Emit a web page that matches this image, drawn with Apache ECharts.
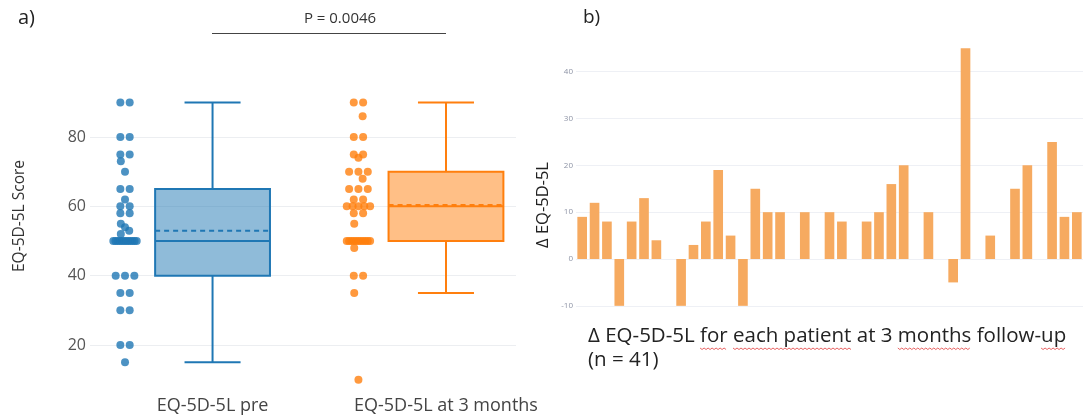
<!DOCTYPE html>
<html>
<head>
<meta charset="utf-8">
<script src="https://cdn.jsdelivr.net/npm/echarts@6/dist/echarts.min.js"></script>
<style>
    html, body { margin: 0; padding: 0; background: #fff; }
    #eqChart { width: 1083px; height: 417px; }
</style>
</head>
<body>
<div id="eqChart"></div>
<script>
const categories = ['EQ-5D-5L pre', 'EQ-5D-5L at 3 months'];

// skor tiap pasien
const preScores = [90, 90, 80, 80, 75, 75, 73, 70, 65, 65, 62, 60, 60, 58, 58, 55, 54, 53, 52,
    50, 50, 50, 50, 50, 50, 50, 50, 50, 50, 50, 50,
    40, 40, 40, 35, 35, 30, 30, 20, 20, 15];
const postScores = [90, 90, 86, 80, 80, 75, 75, 74, 70, 70, 70, 68, 65, 65, 65, 62, 62,
    60, 60, 60, 60, 60, 58, 58, 55,
    50, 50, 50, 50, 50, 50, 50, 50, 50, 50, 50,
    48, 40, 40, 35, 10];

// [min, Q1, median, Q3, max]
const boxStats = [[15, 40, 50, 65, 90], [35, 50, 60, 70, 90]];
const meanScores = [53, 60.4];

// delta per pasien
const deltaScores = [9, 12, 8, -10, 8, 13, 4, 0, -10, 3, 8, 19, 5, -10, 15, 10, 10, 0, 10, 0, 10,
    8, 0, 8, 10, 16, 20, 0, 10, 0, -5, 45, 0, 5, 0, 15, 20, 0, 25, 9, 10];

const caption = 'Δ EQ-5D-5L for each patient at 3 months follow-up';
const misspelled = ['for', 'each patient', 'months', 'up'];

const lineColors = ['#1f77b4', '#ff7f0e'];
const fillColors = ['rgba(31,119,180,0.5)', 'rgba(255,127,14,0.5)'];
const captionFont = '20.5px "Open Sans"';

// titik-titik di kiri box, nilai kembar disebar ke samping
const spreadPoints = (scores, idx) => {
    const count = {};
    scores.forEach(v => count[v] = (count[v] || 0) + 1);
    const seen = {};
    return scores.map((v, i) => {
        const n = count[v];
        const k = seen[v] = (seen[v] || 0) + 1;
        let off = 0;
        if (n > 1) off = (k - 1 - (n - 1) / 2) * Math.min(0.04, 0.1 / (n - 1));
        else off = ((i % 3) - 1) * 0.018;
        return [idx - 0.375 + off, v];
    });
};

// garis merah bergelombang ala spell-check di bawah kata
const measure = document.createElement('canvas').getContext('2d');
measure.font = captionFont;
const squiggles = (text, words, x0, y) => words.map(w => {
    const start = text.indexOf(w);
    const a = x0 + measure.measureText(text.slice(0, start)).width;
    const b = a + measure.measureText(w).width;
    const pts = [];
    for (let x = a, k = 0; x <= b; x += 2, k++) pts.push([x, y + (k % 2 ? 1.5 : 0)]);
    return { type: 'polyline', silent: true, shape: { points: pts }, style: { stroke: '#e23b3b', lineWidth: 0.8, fill: null } };
});

const chartDom = document.getElementById('eqChart');
const myChart = echarts.init(chartDom);

const option = {
    animation: false,
    textStyle: { fontFamily: 'Open Sans' },
    grid: [
        { left: 90, width: 426, top: 92, height: 294.6 },
        { left: 576, width: 512.5, top: 38.9, height: 276.3 }
    ],
    xAxis: [{
        type: 'value',
        min: -0.525,
        max: 1.3,
        axisLine: { show: false },
        axisTick: { show: false },
        splitLine: { show: false },
        axisLabel: {
            customValues: [0, 1],
            formatter: v => categories[Math.round(v)] || '',
            color: '#444',
            fontSize: 18,
            margin: 10
        }
    }, {
        type: 'category',
        gridIndex: 1,
        data: deltaScores.map((_, i) => 'P' + (i + 1)),
        show: false
    }],
    yAxis: [{
        type: 'value',
        min: 8,
        max: 93,
        axisLine: { show: false },
        axisTick: { show: false },
        axisLabel: { color: '#555', fontSize: 16, margin: 4, showMinLabel: false, showMaxLabel: false },
        splitLine: { lineStyle: { color: '#eceef1' }, showMinLine: false, showMaxLine: false }
    }, {
        type: 'value',
        gridIndex: 1,
        min: -12,
        max: 47,
        axisLine: { show: false },
        axisTick: { show: false },
        axisLabel: { color: '#8d93a5', fontSize: 8, margin: 3, showMinLabel: false, showMaxLabel: false },
        splitLine: { lineStyle: { color: '#eef0f5' }, showMinLine: false, showMaxLine: false }
    }],
    series: [{
        type: 'custom',
        name: 'box',
        xAxisIndex: 0,
        yAxisIndex: 0,
        data: boxStats.map((s, i) => [i, ...s, meanScores[i]]),
        renderItem: (params, api) => {
            const i = api.value(0);
            const [lo, q1, med, q3, hi, mean] = [1, 2, 3, 4, 5, 6].map(d => api.value(d));
            const cx = api.coord([i, med])[0];
            const y = v => api.coord([i, v])[1];
            const half = api.size([0.246, 0])[0];
            const cap = api.size([0.12, 0])[0];
            const stroke = lineColors[i];
            const ls = { stroke, lineWidth: 2, fill: null };
            return {
                type: 'group',
                children: [
                    { type: 'line', shape: { x1: cx, y1: y(hi), x2: cx, y2: y(q3) }, style: ls },
                    { type: 'line', shape: { x1: cx, y1: y(q1), x2: cx, y2: y(lo) }, style: ls },
                    { type: 'line', shape: { x1: cx - cap, y1: y(hi), x2: cx + cap, y2: y(hi) }, style: ls },
                    { type: 'line', shape: { x1: cx - cap, y1: y(lo), x2: cx + cap, y2: y(lo) }, style: ls },
                    { type: 'rect', shape: { x: cx - half, y: y(q3), width: 2 * half, height: y(q1) - y(q3) },
                      style: { fill: fillColors[i], stroke, lineWidth: 2 } },
                    { type: 'line', shape: { x1: cx - half, y1: y(med), x2: cx + half, y2: y(med) }, style: ls },
                    { type: 'line', shape: { x1: cx - half, y1: y(mean), x2: cx + half, y2: y(mean) },
                      style: { stroke, lineWidth: 2, lineDash: [5, 4] } }
                ]
            };
        }
    }, {
        type: 'scatter',
        name: categories[0],
        data: spreadPoints(preScores, 0),
        symbolSize: 8,
        itemStyle: { color: lineColors[0] }
    }, {
        type: 'scatter',
        name: categories[1],
        data: spreadPoints(postScores, 1),
        symbolSize: 8,
        itemStyle: { color: lineColors[1] }
    }, {
        type: 'bar',
        name: 'Δ EQ-5D-5L',
        xAxisIndex: 1,
        yAxisIndex: 1,
        data: deltaScores,
        barCategoryGap: '22%',
        itemStyle: { color: '#f6aa60' }
    }],
    graphic: [
        { type: 'text', left: 18, top: 8, style: { text: 'a)', fontSize: 20, fill: '#222', fontFamily: 'Open Sans' } },
        { type: 'text', left: 583, top: 8, style: { text: 'b)', fontSize: 19, fill: '#222', fontFamily: 'Open Sans' } },
        { type: 'text', x: 340, y: 19, style: { text: 'P = 0.0046', fontSize: 15, fill: '#333', textAlign: 'center', textVerticalAlign: 'middle', fontFamily: 'Open Sans' } },
        { type: 'line', shape: { x1: 212, y1: 33.5, x2: 446, y2: 33.5 }, style: { stroke: '#444', lineWidth: 1.2 } },
        { type: 'text', x: 20, y: 216, rotation: Math.PI / 2, style: { text: 'EQ-5D-5L Score', fontSize: 15.5, fill: '#333', textAlign: 'center', textVerticalAlign: 'middle', fontFamily: 'Open Sans' } },
        { type: 'text', x: 543, y: 205, rotation: Math.PI / 2, style: { text: 'Δ EQ-5D-5L', fontSize: 16.5, fill: '#222', textAlign: 'center', textVerticalAlign: 'middle', fontFamily: 'Open Sans' } },
        { type: 'text', x: 588, y: 336, style: { text: caption, font: captionFont, fill: '#222', textVerticalAlign: 'middle' } },
        { type: 'text', x: 588, y: 360, style: { text: '(n = 41)', font: captionFont, fill: '#222', textVerticalAlign: 'middle' } },
        ...squiggles(caption, misspelled, 588, 348)
    ]
};

myChart.setOption(option);
window.addEventListener('resize', () => myChart.resize());
</script>
</body>
</html>
